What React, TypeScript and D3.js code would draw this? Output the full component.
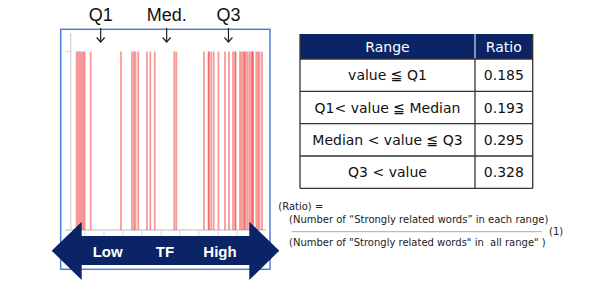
import React from "react";
import * as d3 from "d3";

// Term-frequency position of each "strongly related word" (one stripe each)
const wordTF: number[] = [
  0.563, 0.647, 0.737, 0.826, 0.911, 0.984,
  1.3, 2.895,
  3.474, 3.579, 3.658, 3.805,
  4.263, 4.437, 4.674,
  5.7, 5.805,
  7.263, 7.5, 7.526, 7.647, 7.774,
  8.026, 8.368, 8.579, 8.789, 8.911, 8.921,
  9.158, 9.247, 9.342, 9.395, 9.458, 9.563, 9.668,
  9.763, 9.816, 9.842, 10.016, 10.105, 10.184, 10.316,
];

const xTicks: number[] = [1, 2, 3, 4, 5, 6, 7, 8, 9];

// Quartile markers on the TF axis
const quartileLabels: string[] = ["Q1", "Med.", "Q3"];
const quartileTF: number[] = [1.826, 5.3, 8.55];

const axisWords: string[] = ["Low", "TF", "High"];
const axisWordTF: number[] = [2.195, 5.21, 8.105];

// Ratio table
const tableHeaders: string[] = ["Range", "Ratio"];
const rangeLabels: string[] = [
  "value ≦ Q1",
  "Q1< value ≦ Median",
  "Median < value ≦ Q3",
  "Q3 < value",
];
const ratios: number[] = [0.185, 0.193, 0.295, 0.328];

const W = 600;
const H = 292;
const NAVY = "#0b2466";
const FONT = "'DejaVu Sans', Verdana, sans-serif";

export default function App() {
  const x = d3.scaleLinear().domain([0.25, 10.5]).range([70.7, 265.5]);
  const y = d3.scaleLinear().domain([0, 1]).range([230, 51.5]);

  // Table geometry
  const tLeft = 300;
  const tRight = 532.7;
  const tDivider = 475;
  const headTop = 34;
  const headBottom = 59;
  const rowY = d3
    .scaleLinear()
    .domain([0, rangeLabels.length])
    .range([headBottom, 188.3]);
  const rowH = rowY(1) - rowY(0);

  // Double-headed arrow along the TF axis
  const arrowPath = [
    [51.7, 250.7],
    [81.7, 221.7],
    [81.7, 236],
    [249.3, 236],
    [249.3, 221.7],
    [279.3, 250.7],
    [249.3, 280],
    [249.3, 265],
    [81.7, 265],
    [81.7, 280],
  ];

  return (
    <svg
      width={W}
      height={H}
      style={{ position: "absolute", left: 0, top: 0, background: "#fff" }}
    >
      {/* Chart frame */}
      <rect x={60.7} y={29.3} width={209.3} height={240} fill="#fff" stroke="#4f7fd0" strokeWidth={1.5} />

      {/* Axes */}
      <line x1={x(0.25)} x2={x(0.25)} y1={33} y2={230} stroke="#d9d9d9" strokeWidth={1.5} />
      <line x1={65} x2={x(0.25)} y1={y(1)} y2={y(1)} stroke="#d9d9d9" strokeWidth={1} />
      <line x1={65} x2={266} y1={230} y2={230} stroke="#d0d0d0" strokeWidth={1.5} />
      {xTicks.map((t) => (
        <line key={t} x1={x(t)} x2={x(t)} y1={230} y2={237} stroke="#d9d9d9" strokeWidth={1} />
      ))}

      {/* Word stripes */}
      {wordTF.map((v, i) => (
        <rect
          key={i}
          x={x(v) - 0.9}
          y={y(1)}
          width={1.8}
          height={y(0) - y(1)}
          fill="#f03535"
          fillOpacity={0.5}
        />
      ))}

      {/* Quartile markers */}
      {quartileLabels.map((lab, i) => {
        const cx = x(quartileTF[i]);
        return (
          <g key={lab}>
            <text
              x={cx}
              y={21}
              textAnchor="middle"
              fontFamily="'Liberation Sans', Arial, sans-serif"
              fontSize={18}
              fill="#111"
            >
              {lab}
            </text>
            <line x1={cx} x2={cx} y1={28} y2={42} stroke="#222" strokeWidth={1.2} />
            <path
              d={`M${cx - 4},${37.5} L${cx},${42} L${cx + 4},${37.5}`}
              fill="none"
              stroke="#222"
              strokeWidth={1.2}
            />
          </g>
        );
      })}

      {/* TF arrow */}
      <path d={`M${arrowPath.map((p) => p.join(",")).join(" L")} Z`} fill={NAVY} />
      {axisWords.map((w, i) => (
        <text
          key={w}
          x={x(axisWordTF[i])}
          y={256.7}
          textAnchor="middle"
          fontFamily="'Liberation Sans', Arial, sans-serif"
          fontWeight="bold"
          fontSize={15}
          fill="#fff"
        >
          {w}
        </text>
      ))}

      {/* Ratio table */}
      <rect x={tLeft} y={headTop} width={tRight - tLeft} height={headBottom - headTop} fill={NAVY} />
      <line x1={tDivider} x2={tDivider} y1={headTop} y2={headBottom} stroke="#fff" strokeWidth={1} />
      {tableHeaders.map((h, i) => (
        <text
          key={h}
          x={i === 0 ? (tLeft + tDivider) / 2 : (tDivider + tRight) / 2}
          y={(headTop + headBottom) / 2}
          dy="0.36em"
          textAnchor="middle"
          fontFamily={FONT}
          fontSize={14}
          fill="#fff"
        >
          {h}
        </text>
      ))}
      {rangeLabels.map((lab, i) => {
        const cy = rowY(i) + rowH / 2;
        return (
          <g key={lab}>
            <text
              x={(tLeft + tDivider) / 2}
              y={cy}
              dy="0.36em"
              textAnchor="middle"
              fontFamily={FONT}
              fontSize={14}
              fill="#111"
            >
              {lab}
            </text>
            <text
              x={(tDivider + tRight) / 2}
              y={cy}
              dy="0.36em"
              textAnchor="middle"
              fontFamily={FONT}
              fontSize={14}
              fill="#111"
            >
              {d3.format(".3f")(ratios[i])}
            </text>
          </g>
        );
      })}
      {d3.range(rangeLabels.length + 1).map((i) => (
        <line key={i} x1={tLeft} x2={tRight} y1={rowY(i)} y2={rowY(i)} stroke="#333" strokeWidth={1.3} />
      ))}
      <line x1={tLeft} x2={tLeft} y1={headTop} y2={rowY(rangeLabels.length)} stroke="#333" strokeWidth={1.3} />
      <line x1={tRight} x2={tRight} y1={headTop} y2={rowY(rangeLabels.length)} stroke="#333" strokeWidth={1.3} />
      <line x1={tDivider} x2={tDivider} y1={headBottom} y2={rowY(rangeLabels.length)} stroke="#333" strokeWidth={1.3} />

      {/* Ratio definition */}
      <g fontFamily={FONT} fontSize={10} fill="#222">
        <text x={278.3} y={210}>(Ratio) =</text>
        <text x={289} y={222.5}>(Number of “Strongly related words” in each range)</text>
        <line x1={291.7} x2={541.7} y1={231.7} y2={231.7} stroke="#aaa" strokeWidth={1} />
        <text x={549} y={235}>(1)</text>
        <text x={289} y={245.5} xmlSpace="preserve" style={{ whiteSpace: "pre" }}>
          {'(Number of "Strongly related words" in  all range" )'}
        </text>
      </g>
    </svg>
  );
}
